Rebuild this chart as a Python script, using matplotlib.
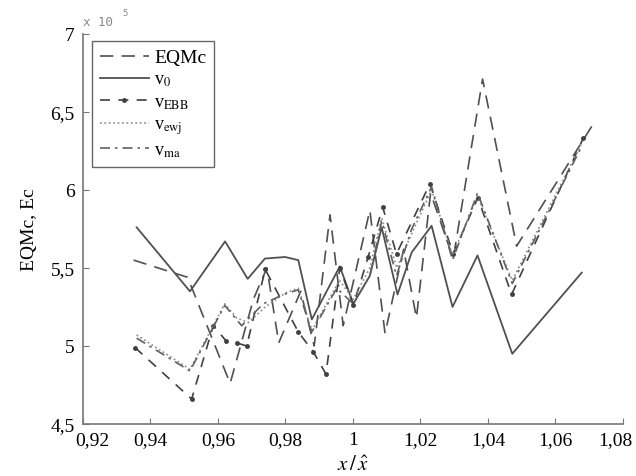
# EQMc y Ec en función de x / x_hat
import matplotlib
matplotlib.use("Agg")
import matplotlib.pyplot as plt
import matplotlib.transforms as mtransforms

# abscisas y valores (en unidades de 1e5)
x_eqmc = [0.935, 0.951, 0.9636, 0.9705, 0.9745, 0.978, 0.9845, 0.9885, 0.9932,
          0.9971, 1.005, 1.0095, 1.015, 1.0188, 1.023, 1.0297, 1.0384, 1.0485, 1.0717]
eqmc = [5.55, 5.44, 4.76, 5.30, 5.50, 5.02, 5.35, 5.00, 5.84,
        5.13, 5.87, 5.08, 5.62, 5.18, 5.98, 5.56, 6.71, 5.64, 6.44]

x_v0 = [0.9359, 0.9517, 0.9621, 0.9688, 0.9739, 0.9799, 0.9838, 0.9878, 0.9961,
        1.0001, 1.005, 1.0085, 1.0132, 1.0174, 1.0233, 1.0295, 1.0369, 1.0472, 1.0678]
v0 = [5.76, 5.35, 5.67, 5.43, 5.56, 5.57, 5.55, 5.17, 5.51,
      5.27, 5.45, 5.76, 5.33, 5.60, 5.77, 5.25, 5.58, 4.95, 5.47]

x_ebb = [0.9354, 0.9522, 0.9586, 0.9625, 0.9655, 0.9685, 0.974, 0.9838, 0.9883, 0.992,
         0.9961, 1.0001, 1.0045, 1.0088, 1.0129, 1.0228, 1.0297, 1.037, 1.047, 1.0682]
v_ebb = [4.99, 4.66, 5.13, 5.03, 5.02, 5.00, 5.49, 5.09, 4.96, 4.82,
         5.50, 5.26, 5.57, 5.89, 5.59, 6.04, 5.59, 5.95, 5.33, 6.33]

x_ewj = [0.9359, 0.9517, 0.962, 0.9655, 0.969, 0.974, 0.980, 0.9838, 0.9878, 0.996,
         1.0001, 1.005, 1.0085, 1.013, 1.0174, 1.0233, 1.0295, 1.0369, 1.0472, 1.0678]
v_ewj = [5.07, 4.85, 5.27, 5.18, 5.15, 5.25, 5.34, 5.37, 5.10, 5.42,
         5.30, 5.50, 5.82, 5.50, 5.72, 6.00, 5.58, 5.96, 5.42, 6.30]

x_ma = [0.9359, 0.9517, 0.962, 0.967, 0.9734, 0.9794, 0.9838, 0.9878, 0.9952,
        1.0001, 1.005, 1.0085, 1.0129, 1.0174, 1.0233, 1.0295, 1.0369, 1.0472, 1.0678]
v_ma = [5.05, 4.84, 5.26, 5.13, 5.27, 5.33, 5.36, 5.09, 5.37,
        5.27, 5.45, 5.80, 5.45, 5.75, 6.02, 5.55, 5.98, 5.40, 6.28]

x_ticks = [0.92, 0.94, 0.96, 0.98, 1.00, 1.02, 1.04, 1.06, 1.08]
x_tick_labels = ['0,92', '0,94', '0,96', '0,98', '1', '1,02', '1,04', '1,06', '1,08']
y_ticks = [4.5, 5, 5.5, 6, 6.5, 7]
y_tick_labels = ['4,5', '5', '5,5', '6', '6,5', '7']

plt.rcParams['font.family'] = ['Liberation Serif', 'DejaVu Serif']
plt.rcParams['mathtext.fontset'] = 'stix'

fig = plt.figure(figsize=(6.36, 4.77), dpi=100)
ax = fig.add_axes([0.1305, 0.109, 0.849, 0.818])

gris = '#505050'
ax.plot(x_eqmc, eqmc, color=gris, lw=1.2, dashes=(8, 5), label='EQMc')
ax.plot(x_v0, v0, color=gris, lw=1.3, label=r'v$_\mathrm{0}$')
ax.plot(x_ebb, v_ebb, color='#404040', lw=1.2, dashes=(6, 5), marker='o', ms=2.5,
        label=r'v$_\mathrm{EBB}$')
ax.plot(x_ewj, v_ewj, color='#888888', lw=1.2, ls=':', label=r'v$_\mathrm{ewj}$')
ax.plot(x_ma, v_ma, color='#606060', lw=1.2, dashes=(6, 3, 1.5, 3), label=r'v$_\mathrm{ma}$')

ax.set_xlim(0.92, 1.08)
ax.set_ylim(4.5, 7)
ax.set_xticks(x_ticks)
ax.set_xticklabels(x_tick_labels)
ax.set_yticks(y_ticks)
ax.set_yticklabels(y_tick_labels)
ax.tick_params(direction='in', length=4, color='#777777', labelsize=14)
ax.tick_params(axis='y', pad=6)
ax.tick_params(axis='x', pad=5)

# primera y última etiqueta del eje x algo desplazadas, como en el original
ticks_x = ax.xaxis.get_major_ticks()
for tick, dx in [(ticks_x[0], 9), (ticks_x[-1], -8)]:
    desp = mtransforms.ScaledTranslation(dx / 100, 0, fig.dpi_scale_trans)
    tick.label1.set_transform(tick.label1.get_transform() + desp)

for lado in ['top', 'right']:
    ax.spines[lado].set_visible(False)
for lado in ['left', 'bottom']:
    ax.spines[lado].set_color('#777777')
    ax.spines[lado].set_linewidth(1.2)

ax.set_xlabel(r'$x\,/\,\hat{x}$', fontsize=15, labelpad=6)
ax.set_ylabel('EQMc, Ec', fontsize=14, labelpad=9)

fig.text(0.131, 0.945, 'x 10', family='DejaVu Sans Mono', fontsize=9, color='#888888')
fig.text(0.192, 0.966, '5', family='DejaVu Sans Mono', fontsize=6.5, color='#888888')

leg = ax.legend(loc='upper left', bbox_to_anchor=(0.016, 0.982), borderaxespad=0,
                fontsize=13, handlelength=2.7, labelspacing=0.28, fancybox=False,
                framealpha=1, edgecolor='#666666', borderpad=0.45, handletextpad=0.3)
leg.get_frame().set_linewidth(1.0)
leg.get_texts()[0].set_fontsize(14)

fig.savefig('out.png', dpi=100)
